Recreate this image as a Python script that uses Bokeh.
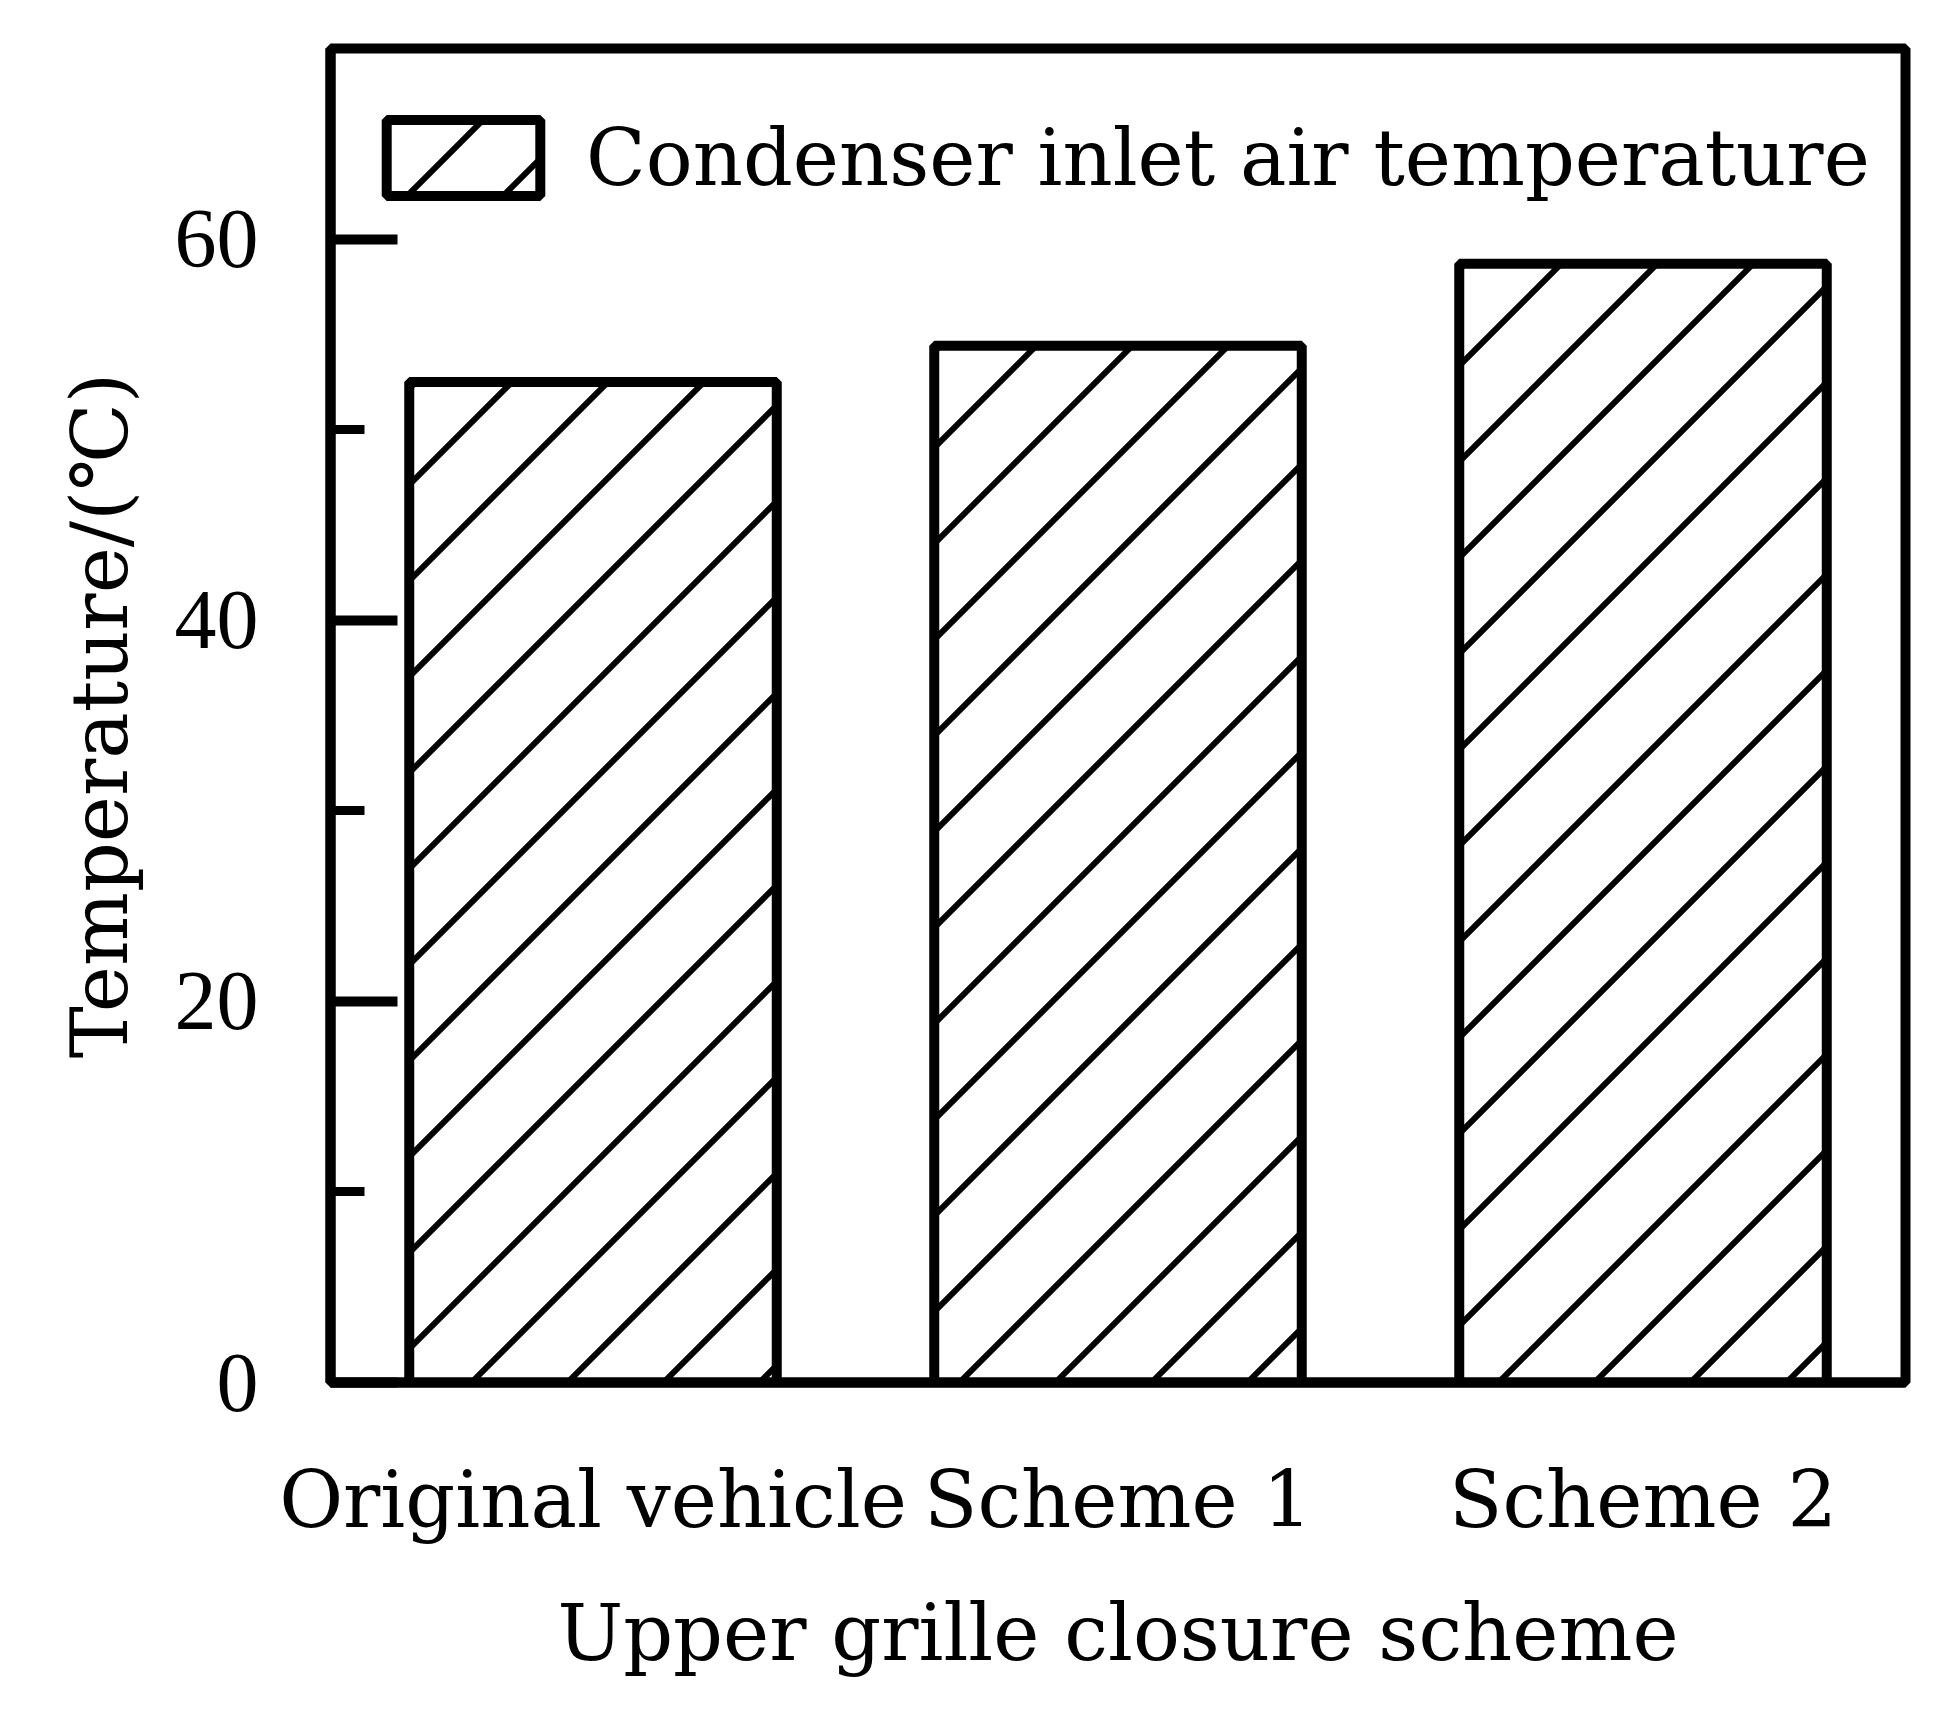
from bokeh.plotting import figure
from bokeh.models import FixedTicker, Legend, LegendItem, CanvasTexture, ColumnDataSource
from bokeh.core.properties import field
from bokeh.embed import file_html
from bokeh.resources import INLINE

# ---- data ----
categories = ["Original vehicle", "Scheme 1", "Scheme 2"]
temperatures = [52.5, 54.4, 58.7]
y_major_ticks = [0, 20, 40, 60]
y_minor_ticks = [10, 30, 50]
legend_label = "Condenser inlet air temperature"
x_title = "Upper grille closure scheme"
y_title = "Temperature/(℃)"

# ---- style ----
WORD_FONT = "DejaVu Serif"
NUM_FONT = "Liberation Serif"
hatch_keys = ["diag_a", "diag_b", "diag_c"]   # one hatch phase per bar
hatch_phases = [30, 38, 1]                     # px offset of the 45deg lines


def diag_texture(offset):
    return CanvasTexture(code="""
const s = 96;
const d = %d;
const c = ctx.canvas;
c.width = s; c.height = s;
ctx.clearRect(0, 0, s, s);
ctx.strokeStyle = 'black';
ctx.lineWidth = 6;
ctx.beginPath();
for (let k = -2; k <= 3; k++) {
  const b = d + k * s;
  ctx.moveTo(-s, b + s); ctx.lineTo(2 * s, b - 2 * s);
}
ctx.stroke();
""" % offset)


hatch_extra = {k: diag_texture(o) for k, o in zip(hatch_keys, hatch_phases)}

source = ColumnDataSource(data=dict(x=categories, top=temperatures, hatch=hatch_keys))

p = figure(
    x_range=categories, y_range=(0, 70),
    width=1922, height=1704,
    output_backend="svg", toolbar_location=None,
    min_border_left=330, min_border_right=17,
    min_border_top=48, min_border_bottom=322,
    background_fill_color="white", border_fill_color="white",
)

r = p.vbar(
    x="x", top="top", width=0.7, source=source,
    fill_color="white", line_color="black", line_width=10,
    hatch_pattern=field("hatch"), hatch_extra=hatch_extra,
    hatch_scale=96, hatch_weight=6, hatch_color="black",
)

p.xgrid.visible = False
p.ygrid.visible = False
p.outline_line_color = "black"
p.outline_line_width = 10

# y axis
ya = p.yaxis[0]
ya.ticker = FixedTicker(ticks=y_major_ticks, minor_ticks=y_minor_ticks)
ya.axis_line_width = 10
ya.major_tick_in = 67
ya.major_tick_out = 0
ya.minor_tick_in = 34
ya.minor_tick_out = 0
ya.major_tick_line_width = 10
ya.minor_tick_line_width = 9
ya.major_label_text_font = NUM_FONT
ya.major_label_text_font_size = "84px"
ya.major_label_text_color = "black"
ya.major_label_standoff = 72
ya.axis_label = y_title
ya.axis_label_text_font = WORD_FONT
ya.axis_label_text_font_size = "78px"
ya.axis_label_text_font_style = "normal"
ya.axis_label_text_color = "black"
ya.axis_label_standoff = 27

# x axis
xa = p.xaxis[0]
xa.axis_line_width = 10
xa.major_tick_line_color = None
xa.minor_tick_line_color = None
xa.major_label_text_font = WORD_FONT
xa.major_label_text_font_size = "78px"
xa.major_label_text_color = "black"
xa.major_label_standoff = 66
xa.axis_label = x_title
xa.axis_label_text_font = WORD_FONT
xa.axis_label_text_font_size = "78px"
xa.axis_label_text_font_style = "normal"
xa.axis_label_text_color = "black"
xa.axis_label_standoff = 40

legend = Legend(
    items=[LegendItem(label=legend_label, renderers=[r], index=0)],
    location=(37, 1177),
    margin=0, padding=0,
    glyph_width=192, glyph_height=95,
    label_standoff=27,
    label_text_font=WORD_FONT, label_text_font_size="78px",
    label_text_color="black",
    border_line_alpha=0, background_fill_alpha=0,
)
p.add_layout(legend)

open("out.html", "w").write(file_html(p, INLINE))
